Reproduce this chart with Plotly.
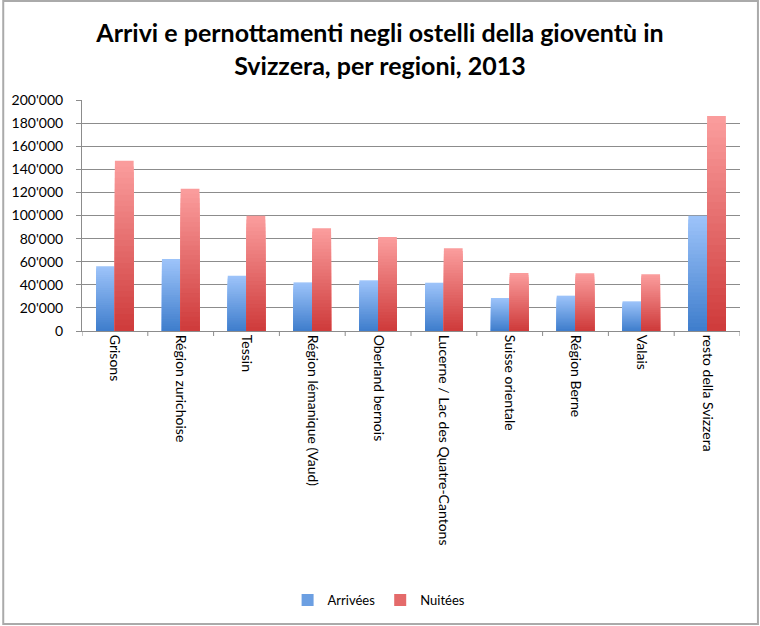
import plotly.graph_objects as go

regions = ["Grisons", "Région zurichoise", "Tessin", "Région lémanique (Vaud)",
           "Oberland bernois", "Lucerne / Lac des Quatre-Cantons", "Suisse orientale",
           "Région Berne", "Valais", "resto della Svizzera"]
arrivees = [56000, 62300, 47900, 42100, 43900, 41800, 28600, 30600, 25700, 99800]
nuitees = [147400, 123200, 99800, 88900, 81400, 71600, 50200, 49900, 49100, 186100]

series = [
    ("Arrivées", arrivees, (62, 125, 204), (158, 196, 250), -0.285),
    ("Nuitées", nuitees, (206, 58, 58), (251, 158, 158), 0.0),
]

N = 30
W = 0.285
fig = go.Figure()
xi = list(range(len(regions)))
for name, vals, dark, light, off in series:
    # tallest (lightest) first, shorter darker bars drawn on top -> smooth gradient
    for k in range(N, 0, -1):
        t = (k - 0.5) / N
        c = tuple(int(round(dark[j] + (light[j] - dark[j]) * t)) for j in range(3))
        fig.add_trace(go.Bar(
            x=xi, y=[v * k / N for v in vals],
            width=W, offset=off,
            marker=dict(color="rgb(%d,%d,%d)" % c, line=dict(width=0)),
            name=name, showlegend=(k == N // 2), legendgroup=name,
            hoverinfo="skip"))

def px(x):
    return (x - 80) / 660

def py(y):
    return (331 - y) / 231

fig.update_layout(
    width=760, height=626,
    barmode="overlay",
    paper_bgcolor="white", plot_bgcolor="white",
    separators=".'",
    margin=dict(l=80, r=20, t=100, b=295),
    font=dict(family="Lato, Open Sans, sans-serif", color="black"),
    title=dict(text="<b>Arrivi e pernottamenti negli ostelli della gioventù in<br>Svizzera, per regioni, 2013</b>",
               x=0.5, xanchor="center", y=1 - 42 / 626, yanchor="top",
               font=dict(size=25, family="Lato, Open Sans, sans-serif")),
    showlegend=True,
    legend=dict(orientation="h", x=px(378), xanchor="center", y=py(600), yanchor="middle",
                font=dict(size=13), traceorder="normal", itemwidth=30),
    xaxis=dict(tickmode="array", tickvals=xi, ticktext=regions, range=[-0.5, 9.5],
               tickangle=90, showgrid=False, showline=True, linecolor="#8c8c8c",
               ticks="", tickfont=dict(size=14)),
    yaxis=dict(range=[0, 200000], dtick=20000, tickformat=",d",
               showgrid=True, gridcolor="#8c8c8c", gridwidth=1,
               showline=True, linecolor="#8c8c8c", ticks="outside", ticklen=5,
               tickcolor="#8c8c8c", tickfont=dict(size=14), zeroline=False,
               ticklabelstandoff=10),
)

# category boundary ticks on x axis
for b in range(11):
    fig.add_shape(type="line", xref="x", yref="paper", x0=b - 0.5, x1=b - 0.5,
                  y0=0, y1=-5 / 231, line=dict(color="#8c8c8c", width=1))
# outer frame
fig.add_shape(type="rect", xref="paper", yref="paper", x0=px(1), x1=px(758),
              y0=py(624), y1=py(1), line=dict(color="#aaaaaa", width=2))

fig.write_html("out.html")
